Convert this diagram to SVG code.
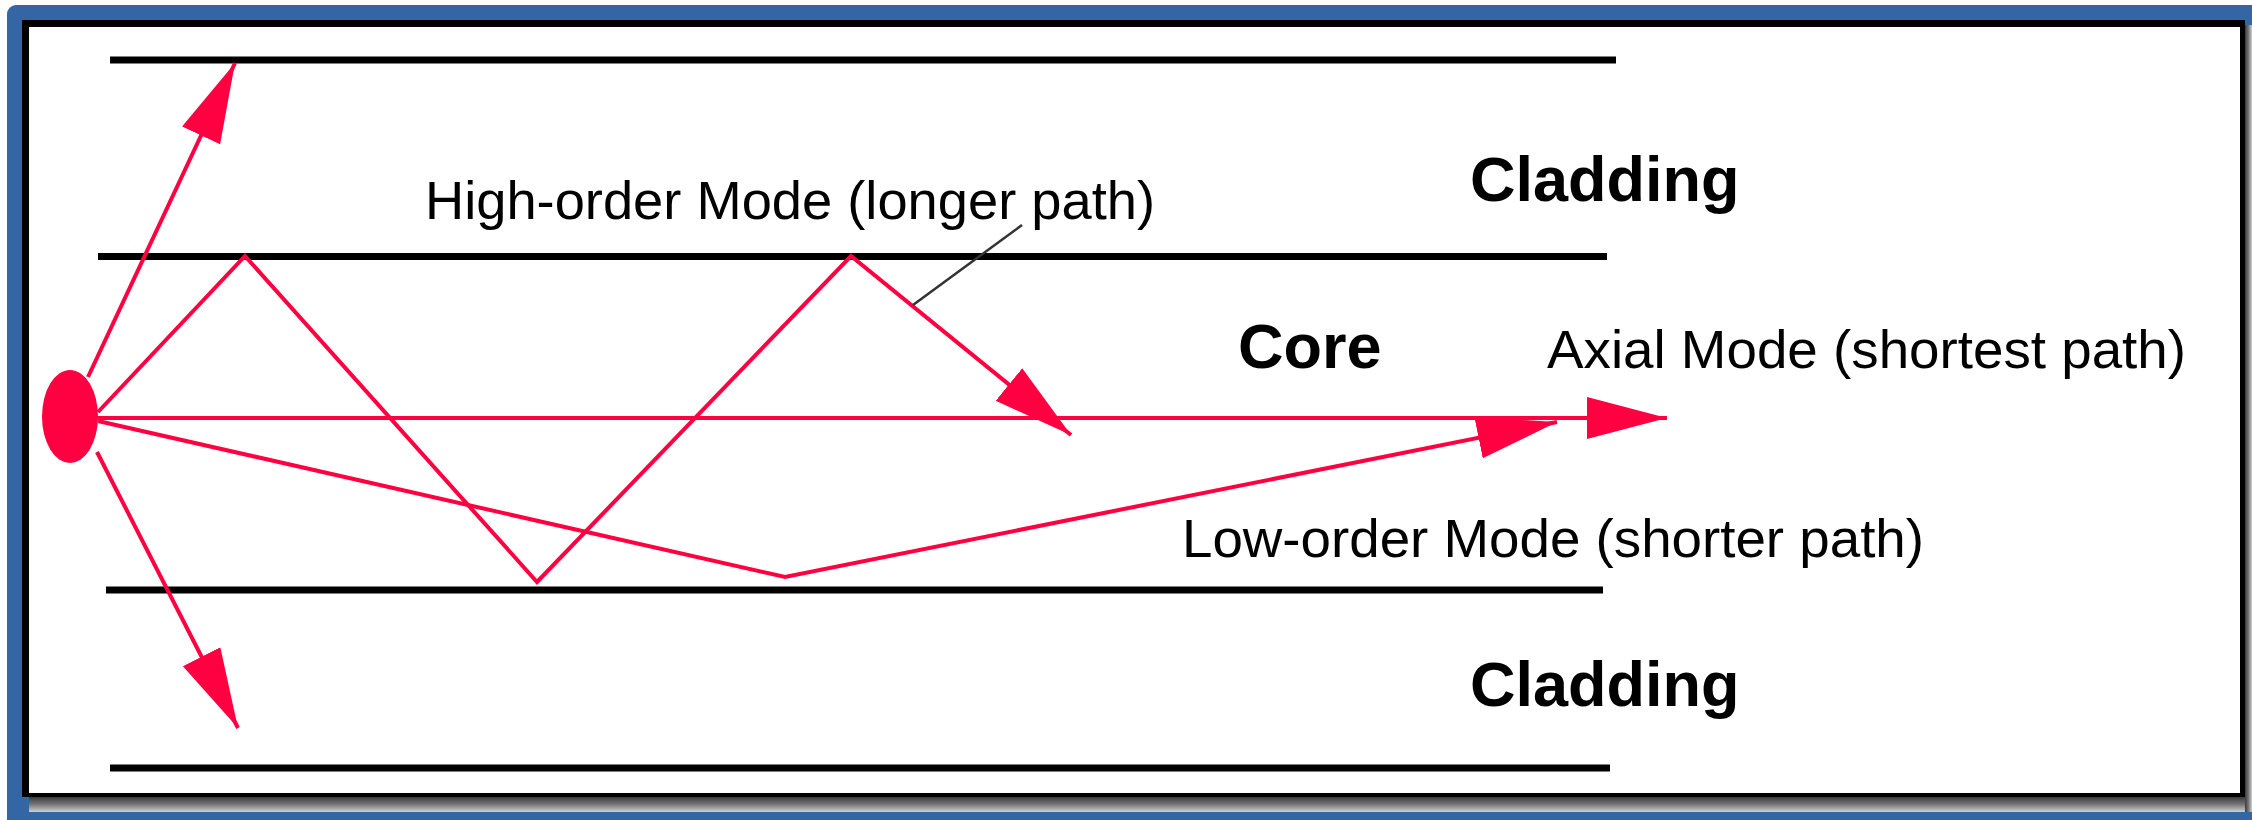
<svg xmlns="http://www.w3.org/2000/svg" width="2252" height="820" viewBox="0 0 2252 820">
  <style>
    .fiber { stroke: #000; stroke-width: 7; fill: none; }
    .ray { stroke: #ff0040; stroke-width: 4; fill: none; stroke-linejoin: miter; }
    .lbl { font-family: "Liberation Sans", Arial, sans-serif; fill: #000; }
    .bold { font-weight: bold; font-size: 63px; }
    .reg { font-size: 54px; }
  </style>
  <defs>
    <marker id="arrow" markerUnits="userSpaceOnUse" markerWidth="82" markerHeight="44" refX="80" refY="21" orient="auto" viewBox="0 0 82 44">
      <path d="M0,0 L80,21 L0,42 Z" fill="#ff0040"/>
    </marker>
    <linearGradient id="shB" x1="0" y1="0" x2="0" y2="1">
      <stop offset="0" stop-color="#3a3a3a"/>
      <stop offset="0.5" stop-color="#777"/>
      <stop offset="1" stop-color="#d0d0d0"/>
    </linearGradient>
    <linearGradient id="shR" x1="0" y1="0" x2="1" y2="0">
      <stop offset="0" stop-color="#3a3a3a"/>
      <stop offset="0.5" stop-color="#777"/>
      <stop offset="1" stop-color="#d0d0d0"/>
    </linearGradient>
  </defs>
  <rect x="0" y="0" width="2252" height="820" fill="#fff"/>
  <g id="frame">
    <rect x="7" y="5" width="2260" height="830" rx="9" fill="#3465a4"/>
    <rect x="29" y="797" width="2223" height="15" fill="url(#shB)"/>
    <rect x="2245" y="25" width="7" height="787" fill="url(#shR)"/>
    <rect x="22" y="20" width="2223" height="777" fill="#000"/>
    <rect x="29" y="27" width="2211" height="766" fill="#fff"/>
  </g>
  <g id="fiber-lines">
    <line class="fiber" x1="110" y1="60" x2="1616" y2="60"/>
    <line class="fiber" x1="98" y1="256.5" x2="1607" y2="256.5"/>
    <line class="fiber" x1="106" y1="590" x2="1603" y2="590"/>
    <line class="fiber" x1="110" y1="768" x2="1610" y2="768"/>
  </g>
  <g id="source">
    <ellipse cx="70" cy="416.5" rx="28" ry="46.5" fill="#ff0040"/>
  </g>
  <g id="connectors">
    <path class="ray" d="M88,377 L235,63" marker-end="url(#arrow)"/>
    <path class="ray" d="M97,452 L238,728" marker-end="url(#arrow)"/>
    <path class="ray" d="M98,418 L1667,418" marker-end="url(#arrow)"/>
    <path class="ray" d="M98,412 L245,256 L537,582 L851,256 L1071,435" marker-end="url(#arrow)"/>
    <path class="ray" d="M98,421 L785,577 L1557,422" marker-end="url(#arrow)"/>
    <line x1="1022" y1="225" x2="913" y2="305" stroke="#333" stroke-width="2.5"/>
  </g>
  <g id="label-cladding-top"><text class="lbl bold" x="1470" y="201">Cladding</text></g>
  <g id="label-high"><text class="lbl reg" x="425" y="219" textLength="730" lengthAdjust="spacingAndGlyphs">High-order Mode (longer path)</text></g>
  <g id="label-core"><text class="lbl bold" x="1238" y="368">Core</text></g>
  <g id="label-axial"><text class="lbl reg" x="1547" y="368" textLength="639" lengthAdjust="spacingAndGlyphs">Axial Mode (shortest path)</text></g>
  <g id="label-low"><text class="lbl reg" x="1182" y="557" textLength="742" lengthAdjust="spacingAndGlyphs">Low-order Mode (shorter path)</text></g>
  <g id="label-cladding-bottom"><text class="lbl bold" x="1470" y="706">Cladding</text></g>
</svg>
